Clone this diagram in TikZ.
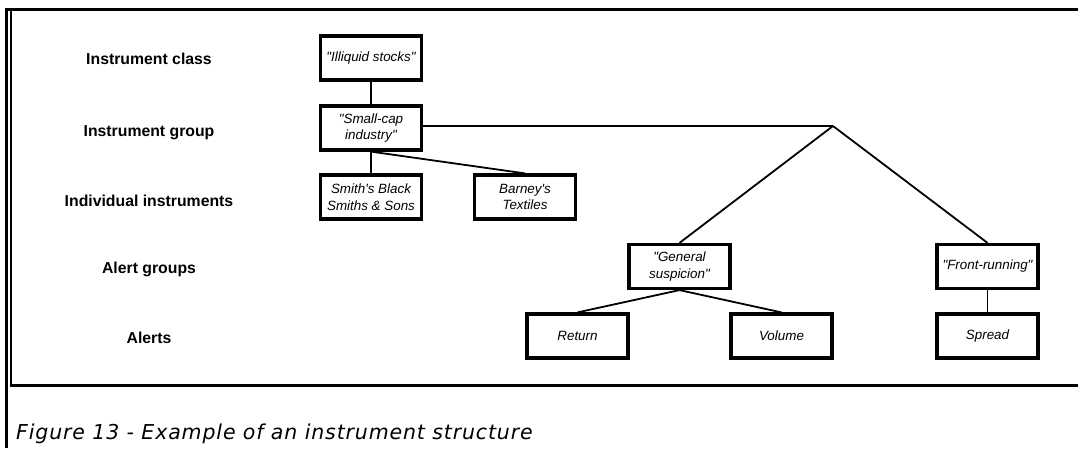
\documentclass[tikz,border=0pt]{standalone}
\usepackage{fontspec}
\setmainfont{Liberation Sans}[Ligatures=TeXOff]
\newfontfamily\captionfont[LetterSpace=4.2]{DejaVu Sans}
\begin{document}
\begin{tikzpicture}[x=1pt,y=-1pt,
  level/.style={font=\fontsize{15.8}{18}\selectfont\bfseries, anchor=base, inner sep=0pt},
  item/.style={draw, line width=3.2pt, minimum width=101pt, minimum height=44pt,
    inner sep=1pt, align=center, font=\fontsize{13.4}{16.5}\selectfont\itshape},
  link/.style={line width=1.8pt},
  frame/.style={line width=3pt}]
\useasboundingbox (0,0) rectangle (1078,448);

% outer frame
\draw[frame] (6.5,8) -- (6.5,448);
\draw[frame] (5,9.5) -- (1078,9.5);
\draw[line width=2pt] (10.5,11) -- (10.5,385);
\draw[frame] (9.5,385) -- (1078,385);

% level names
\node[level] (l1) at (149,64) {Instrument class};
\node[level] (l2) at (149,136) {Instrument group};
\node[level] (l3) at (149,206) {Individual instruments};
\node[level] (l4) at (149,273) {Alert groups};
\node[level] (l5) at (149,343) {Alerts};

% hierarchy boxes
\node[item] (ill) at (371,58) {"Illiquid stocks"};
\node[item] (scg) at (371,128) {"Small-cap\\industry"};
\node[item] (smith) at (371,197) {Smith's Black\\Smiths \& Sons};
\node[item] (barney) at (525,197) {Barney's\\Textiles};
\node[item] (gen) at (679.5,266.5) {"General\\suspicion"};
\node[item] (front) at (987.5,266.5) {"Front-running"};
\node[item] (ret) at (577.5,336) {Return};
\node[item] (vol) at (781.5,336) {Volume};
\node[item] (spr) at (987.5,336) {Spread};

\coordinate (J) at (833,126);

% connectors
\draw[link] (ill.south) -- (scg.north);
\draw[link] (scg.south) -- (smith.north);
\draw[link] (scg.south) -- (barney.north);
\draw[link] (scg.east |- J) -- (J);
\draw[link] (J) -- (gen.north);
\draw[link] (J) -- (front.north);
\draw[link] (gen.south) -- (ret.north);
\draw[link] (gen.south) -- (vol.north);
\draw[link] (front.south) -- (spr.north);

% caption
\node[anchor=base west, inner sep=0pt, font=\captionfont\fontsize{20.5}{24}\selectfont\itshape] (cap) at (16,439) {Figure 13 - Example of an instrument structure};
\end{tikzpicture}
\end{document}
